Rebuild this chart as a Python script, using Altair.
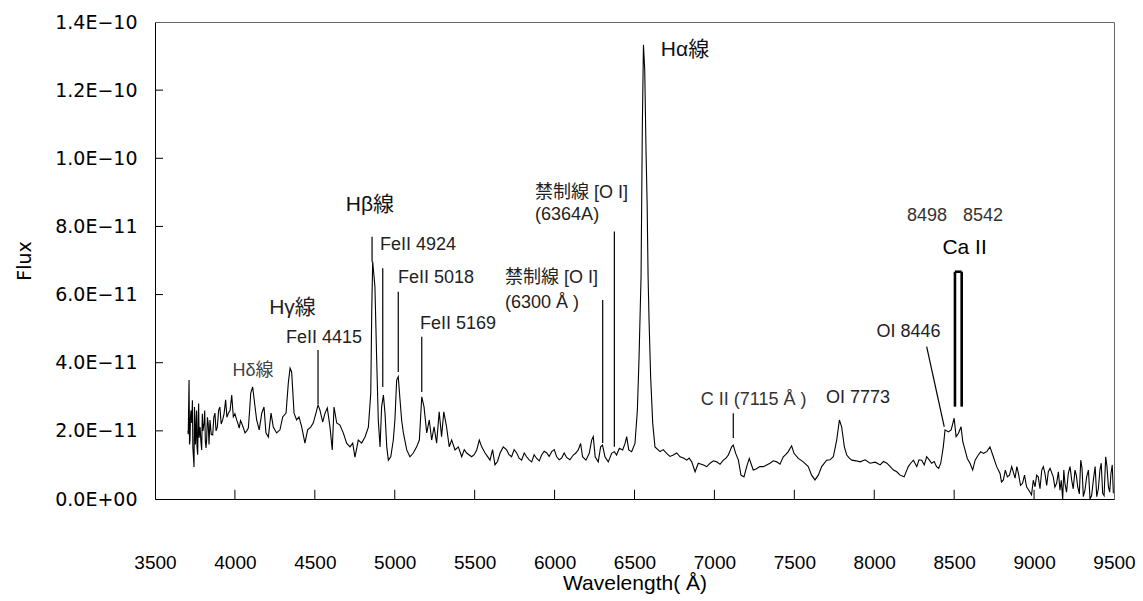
import altair as alt
import pandas as pd

# ---- spectrum (wavelength in Å, flux in units of 1e-11) ----
wavelength = [
    3706, 3708, 3713, 3719, 3725, 3730, 3737, 3744, 3750, 3756, 3763, 3770, 3776, 3782, 3792,
    3800, 3807, 3815, 3823, 3833, 3844, 3852, 3861, 3868, 3875, 3882, 3890, 3898, 3906, 3914,
    3923, 3932, 3942, 3950, 3959, 3970, 3980, 3990, 4000, 4011, 4020, 4027, 4035, 4042, 4052,
    4063, 4074, 4084, 4092, 4099, 4111, 4126, 4136, 4152, 4168, 4182, 4194, 4209, 4226, 4240,
    4261, 4282, 4299, 4320, 4334, 4345, 4355, 4370, 4386, 4401, 4418, 4438, 4455, 4474, 4490,
    4507, 4520, 4532, 4549, 4564, 4578, 4595, 4609, 4620, 4637, 4657, 4678, 4699, 4720, 4737,
    4751, 4772, 4793, 4814, 4835, 4850, 4856, 4862, 4876, 4887, 4897, 4908, 4918, 4929, 4939,
    4950, 4960, 4975, 4991, 5001, 5012, 5022, 5033, 5043, 5054, 5075, 5095, 5116, 5137, 5154,
    5169, 5183, 5200, 5216, 5231, 5246, 5262, 5278, 5293, 5307, 5324, 5341, 5356, 5377, 5398,
    5419, 5450, 5481, 5513, 5529, 5544, 5565, 5596, 5627, 5659, 5679, 5700, 5731, 5763, 5794,
    5825, 5857, 5888, 5919, 5951, 5982, 6013, 6044, 6075, 6117, 6148, 6163, 6175, 6196, 6217,
    6232, 6242, 6254, 6273, 6288, 6300, 6315, 6336, 6357, 6374, 6388, 6405, 6426, 6441, 6451,
    6464, 6482, 6503, 6518, 6528, 6541, 6549, 6556, 6564, 6572, 6579, 6585, 6591, 6601, 6614,
    6628, 6660, 6701, 6743, 6785, 6827, 6858, 6879, 6899, 6931, 6973, 7014, 7056, 7087, 7108,
    7118, 7133, 7150, 7166, 7185, 7202, 7218, 7243, 7260, 7306, 7348, 7390, 7431, 7462, 7483,
    7498, 7525, 7556, 7587, 7608, 7629, 7650, 7671, 7702, 7744, 7765, 7782, 7796, 7813, 7828,
    7860, 7912, 7974, 8037, 8079, 8120, 8162, 8187, 8213, 8245, 8266, 8297, 8328, 8359, 8390,
    8416, 8432, 8443, 8464, 8481, 8500, 8512, 8527, 8543, 8554, 8568, 8582, 8599, 8616, 8631,
    8651, 8666, 8683, 8704, 8724, 8745, 8766, 8787, 8808, 8833, 8860, 8881, 8902, 8928, 8953,
    8984, 9006, 9026, 9048, 9068, 9089, 9120, 9141, 9162, 9179, 9193, 9214, 9235, 9256, 9273,
    9292, 9308, 9329, 9350, 9371, 9392, 9412, 9429, 9448, 9465, 9481, 9496,
    # finer readings of the small wiggles
    5435, 5497, 5580, 5612, 5643, 5715, 5747, 5778, 5810, 5841, 5872, 5904, 5935, 5966, 5998,
    6029, 6060, 6096, 6133, 6680, 6722, 6764, 6806, 6842, 6952, 6994, 7035, 7072, 7285, 7327,
    7369, 7410, 7446, 7723, 7844, 7886, 7943, 8006, 8058, 8100, 8141, 8228, 8280, 8313, 8344,
    8375, 8403, 8796, 8820, 8846, 8892, 8915, 8940, 8968, 8995, 9016, 9037, 9058, 9079, 9100,
    9130, 9152, 9170, 9186, 9203, 9225, 9245, 9264, 9283, 9300, 9318, 9340, 9360, 9382, 9402,
    9420, 9438, 9456, 9473, 9489, 3716, 3722, 3734, 3741, 3747, 3753, 3760, 3767, 3773, 3787,
    3796, 3811, 3819, 3828, 3838,
]
flux_e11 = [
    2.00, 1.90, 3.49, 1.73, 2.60, 2.23, 1.50, 0.94, 2.32, 1.90, 1.53, 2.30, 1.80, 2.11, 1.44,
    2.00, 2.23, 1.70, 1.73, 2.20, 2.32, 1.90, 1.88, 2.40, 2.52, 2.00, 2.11, 2.60, 2.70, 2.20,
    2.32, 2.50, 2.91, 2.40, 2.52, 2.60, 3.05, 2.41, 2.50, 2.32, 2.20, 2.08, 2.30, 2.23, 2.10,
    1.94, 2.00, 2.08, 2.60, 3.11, 3.29, 2.70, 2.32, 2.03, 2.52, 2.70, 1.94, 1.82, 2.52, 2.11,
    1.94, 2.03, 2.41, 2.52, 3.40, 3.84, 3.73, 2.52, 2.32, 2.41, 2.11, 1.64, 2.03, 2.11, 2.23,
    2.52, 2.76, 2.61, 2.26, 2.52, 2.67, 2.11, 1.44, 2.70, 2.23, 2.17, 1.94, 1.64, 1.53, 1.64,
    1.23, 1.73, 1.64, 1.82, 2.11, 3.11, 5.50, 6.97, 6.23, 4.08, 2.32, 1.53, 2.71, 3.05, 2.52,
    1.53, 1.14, 1.24, 1.73, 2.32, 3.49, 3.59, 2.91, 2.32, 1.94, 1.44, 1.24, 1.35, 1.53, 1.73,
    3.00, 2.71, 1.94, 2.32, 1.73, 2.12, 1.64, 2.56, 1.83, 2.56, 2.12, 1.53, 1.73, 1.44, 1.53,
    1.24, 1.35, 1.24, 1.44, 1.73, 1.53, 1.35, 1.14, 1.00, 1.35, 1.53, 1.44, 1.24, 1.35, 1.14,
    1.24, 1.09, 1.19, 1.29, 1.35, 1.39, 1.24, 1.20, 1.22, 1.29, 1.44, 1.63, 1.24, 1.14, 1.34,
    1.73, 1.83, 1.24, 1.09, 1.53, 1.58, 1.24, 1.09, 1.34, 1.39, 1.29, 1.49, 1.44, 1.63, 1.83,
    1.44, 1.39, 1.63, 2.61, 4.08, 6.52, 10.93, 13.33, 12.59, 10.24, 8.68, 6.52, 5.25, 3.59, 2.22,
    1.53, 1.39, 1.34, 1.29, 1.24, 1.14, 1.09, 0.80, 1.05, 1.00, 1.05, 1.09, 1.14, 1.29, 1.53,
    1.58, 1.34, 1.14, 0.70, 0.65, 0.95, 1.19, 0.85, 0.88, 0.95, 1.05, 1.09, 1.24, 1.39, 1.56,
    1.34, 1.19, 1.09, 0.95, 0.70, 0.56, 0.70, 0.95, 1.14, 1.24, 1.73, 2.32, 2.12, 1.53, 1.29,
    1.14, 1.09, 1.05, 1.00, 1.05, 0.85, 0.70, 0.65, 0.95, 1.14, 0.95, 1.14, 1.24, 1.05, 0.95,
    1.05, 1.53, 2.03, 1.97, 2.03, 2.37, 1.83, 1.93, 2.12, 1.68, 1.44, 1.19, 1.05, 0.85, 1.14,
    1.29, 1.39, 1.34, 1.39, 1.53, 1.24, 0.95, 0.75, 0.56, 0.65, 0.95, 0.61, 0.75, 0.46, 0.36,
    0.12, 0.36, 0.65, 0.85, 0.75, 0.80, 0.65, 0.46, 0.26, 0.00, 0.46, 0.75, 0.56, 0.85, 0.36,
    1.14, 0.07, 0.65, 0.00, 0.56, 0.07, 0.85, 0.17, 1.24, 0.36, 0.75, 0.17,
    1.45, 1.30, 1.25, 1.45, 1.10, 1.30, 1.45, 1.20, 1.35, 1.15, 1.30, 1.12, 1.40, 1.25, 1.45,
    1.15, 1.35, 1.15, 1.35, 1.45, 1.25, 1.35, 1.20, 1.20, 0.95, 1.12, 1.02, 1.20, 0.95, 1.00,
    1.12, 1.02, 1.30, 1.15, 1.20, 1.12, 1.15, 1.08, 1.10, 0.95, 0.80, 1.05, 1.15, 1.00, 1.15,
    1.10, 0.90, 0.50, 0.85, 0.70, 0.95, 0.40, 0.70, 0.25, 0.55, 0.70, 0.30, 0.95, 0.40, 0.90,
    0.35, 0.80, 0.55, 0.85, 0.20, 0.95, 0.30, 0.70, 0.15, 0.90, 0.25, 0.85, 0.10, 0.95, 0.30,
    1.05, 0.10, 0.95, 0.20, 1.00, 1.60, 2.40, 2.90, 1.20, 2.70, 1.60, 2.60, 1.30, 2.80, 1.70,
    2.50, 2.60, 1.50, 2.40, 1.60,
]

# ---- annotation texts ----
label_text = ["Hδ線", "Hγ線", "FeII 4415", "Hβ線", "Hα線", "C II (7115 Å )", "OI 7773",
              "OI 8446", "8498", "8542", "Ca II"]
label_wl = [4113, 4360, 4557, 4845, 6816, 7245, 7898, 8214, 8330, 8680, 8565]
label_flux = [3.76, 5.61, 4.73, 8.63, 13.18, 2.91, 2.96, 4.91, 8.31, 8.31, 7.36]
label_size = [18, 21, 18, 21, 21, 18, 18, 18, 18, 18, 21]
label_color = ["#444", "#222", "#222", "#111", "#111", "#333", "#222", "#222", "#333", "#333", "#000"]

left_text = ["FeII 4924", "FeII 5018", "FeII 5169", "禁制線 [O I]", "(6300 Å )",
             "禁制線 [O I]", "(6364A)"]
left_wl = [4908, 5020, 5158, 5690, 5690, 5878, 5878]
left_flux = [7.46, 6.49, 5.14, 6.49, 5.75, 8.98, 8.34]

# ---- marker lines (wavelength, flux from / to) ----
seg_x = [4520, 4858, 4925, 5022, 5169, 6301, 6374, 7118, 8328]
seg_x2 = [4520, 4858, 4925, 5022, 5169, 6301, 6374, 7118, 8438]
seg_y = [4.37, 7.70, 6.77, 6.08, 4.76, 5.84, 7.85, 2.52, 4.47]
seg_y2 = [2.79, 6.96, 3.29, 3.73, 3.14, 1.64, 1.53, 1.79, 2.12]

# Ca II bracket
ca_x = [8505, 8547, 8505]
ca_x2 = [8505, 8547, 8547]
ca_y = [6.67, 6.67, 6.67]
ca_y2 = [2.71, 2.71, 6.67]

# axis ticks
x_label_values = [3500, 4000, 4500, 5000, 5500, 6000, 6500, 7000, 7500, 8000, 8500, 9000, 9500]
x_tick_values = [4000, 4500, 5000, 5500, 6000, 6500, 7000, 7500, 8000, 8500, 9000]
y_label_values = [0, 2, 4, 6, 8, 10, 12, 14]
y_tick_values = [2, 4, 6, 8, 10, 12]

FONT = "Liberation Sans, Noto Sans CJK JP, sans-serif"

spec = pd.DataFrame({"wl": wavelength, "flux": flux_e11})

xscale = alt.Scale(domain=[3500, 9500], nice=False, zero=False)
yscale = alt.Scale(domain=[0, 14], nice=False)

x_axis = alt.Axis(
    values=x_label_values, format="d", labelOverlap=False, labelFlush=False,
    grid=False, ticks=False, domainColor="#000", domainWidth=1,
    labelFont="Liberation Sans, sans-serif", labelFontSize=19, labelColor="#000",
    labelPadding=63, labelBaseline="middle",
    title="Wavelength( Å)", titleFont="Liberation Sans, sans-serif",
    titleFontSize=21, titleFontWeight="normal", titleColor="#000", titlePadding=0,
)
y_axis = alt.Axis(
    values=y_label_values, grid=False, ticks=False, labelOverlap=False, labelFlush=False,
    domainColor="#000", domainWidth=1,
    labelExpr="datum.value == 0 ? '0.0E+00' : (datum.value >= 10 ? format(datum.value/10, '.1f') + 'E−10' : format(datum.value, '.1f') + 'E−11')",
    labelFont="DejaVu Sans, sans-serif", labelFontSize=19, labelColor="#000", labelPadding=18,
    title="Flux", titleFont="DejaVu Sans, sans-serif", titleFontSize=19,
    titleFontWeight="normal", titleColor="#000", titlePadding=20,
)

line = alt.Chart(spec).mark_line(color="#000", strokeWidth=1.1).encode(
    x=alt.X("wl:Q", scale=xscale, axis=x_axis),
    y=alt.Y("flux:Q", scale=yscale, axis=y_axis),
)

xt = pd.DataFrame({"x": x_tick_values, "y": [0] * len(x_tick_values), "y2": [0.27] * len(x_tick_values)})
xticks = alt.Chart(xt).mark_rule(color="#000", strokeWidth=1).encode(
    x="x:Q", y="y:Q", y2="y2:Q")
yt = pd.DataFrame({"y": y_tick_values, "x": [3500] * len(y_tick_values), "x2": [3550] * len(y_tick_values)})
yticks = alt.Chart(yt).mark_rule(color="#000", strokeWidth=1).encode(
    y="y:Q", x="x:Q", x2="x2:Q")

segs = pd.DataFrame({"x": seg_x, "x2": seg_x2, "y": seg_y, "y2": seg_y2})
seg_layer = alt.Chart(segs).mark_rule(color="#000", strokeWidth=1.2).encode(
    x="x:Q", x2="x2:Q", y="y:Q", y2="y2:Q")

ca = pd.DataFrame({"x": ca_x, "x2": ca_x2, "y": ca_y, "y2": ca_y2})
ca_layer = alt.Chart(ca).mark_rule(color="#000", strokeWidth=2.6).encode(
    x="x:Q", x2="x2:Q", y="y:Q", y2="y2:Q")

labels = pd.DataFrame({"t": label_text, "x": label_wl, "y": label_flux,
                       "s": label_size, "c": label_color})
label_layer = alt.Chart(labels).mark_text(font=FONT, align="center", baseline="middle").encode(
    x="x:Q", y="y:Q", text="t:N",
    size=alt.Size("s:Q", scale=None, legend=None),
    color=alt.Color("c:N", scale=None, legend=None),
)

lefts = pd.DataFrame({"t": left_text, "x": left_wl, "y": left_flux})
left_layer = alt.Chart(lefts).mark_text(font=FONT, align="left", baseline="middle",
                                        fontSize=18, color="#222").encode(
    x="x:Q", y="y:Q", text="t:N")

chart = alt.layer(
    line, xticks, yticks, seg_layer, ca_layer, label_layer, left_layer
).properties(
    width=959, height=477,
    autosize=alt.AutoSizeParams(type="none"),
    padding={"left": 155, "top": 22, "right": 29, "bottom": 102},
    background="#ffffff",
).configure_view(stroke="#666", strokeWidth=1)

chart.save("out.html", embed_options={"renderer": "svg", "actions": False})
